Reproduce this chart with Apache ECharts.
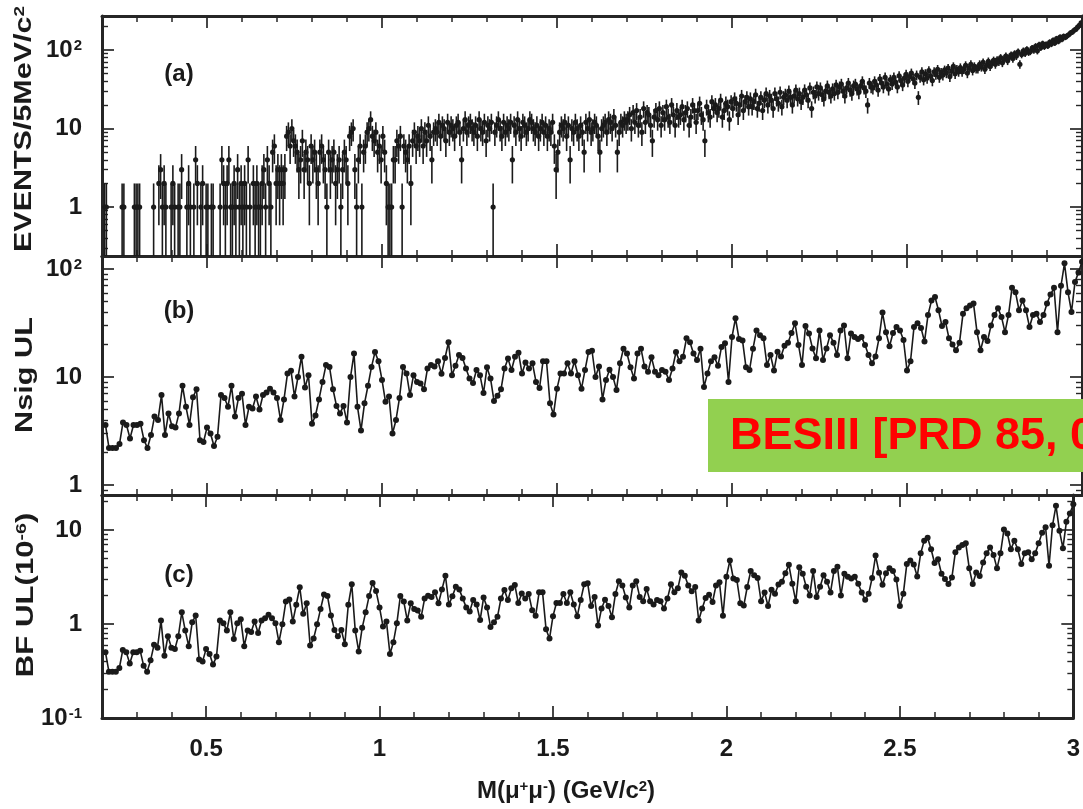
<!DOCTYPE html>
<html>
<head>
<meta charset="utf-8">
<script src="https://cdn.jsdelivr.net/npm/echarts@6/dist/echarts.min.js"></script>
<style>html,body{margin:0;padding:0;background:#fff;overflow:hidden}#chart{width:1083px;height:809px}</style>
</head>
<body>
<div id="chart"></div>
<script>
// ---------------- data ----------------
const massRange = [0.2, 3.0];                 // GeV/c^2
const xTickLabels = [0.5, 1, 1.5, 2, 2.5, 3];
const xMinorTicks = [0.3,0.4,0.6,0.7,0.8,0.9,1.1,1.2,1.3,1.4,1.6,1.7,1.8,1.9,2.1,2.2,2.3,2.4,2.6,2.7,2.8,2.9];
const yTicksA = [1, 10, 100];
const yTicksB = [1, 10, 100];
const yTicksC = [0.1, 1, 10];
const yMinorA = [0.3,0.4,0.5,0.6,0.7,0.8,0.9,2,3,4,5,6,7,8,9,20,30,40,50,60,70,80,90,200];
const yMinorB = [0.9,2,3,4,5,6,7,8,9,20,30,40,50,60,70,80,90];
const yMinorC = [0.2,0.3,0.4,0.5,0.6,0.7,0.8,0.9,2,3,4,5,6,7,8,9,20];
const yRangeA = [0.238, 272];
const yRangeB = [0.808, 132];
const yRangeC = [0.1, 23.5];

// (a) events per 5 MeV bin, bins start at 0.200 GeV
const binStart = 0.2, binWidth = 0.005;
const eventsA = [
0,1,1,0,0,0,0,0,0,0,
0,1,1,0,0,0,0,0,1,1,
1,1,0,0,0,0,0,0,0,1,
0,0,2,3,1,2,1,0,0,1,
2,1,0,1,1,3,0,0,1,2,
1,0,1,4,2,0,1,2,0,1,
1,0,1,1,0,0,0,1,4,2,
1,2,4,1,1,2,1,3,1,2,
1,2,1,4,1,0,2,1,2,1,
1,2,3,1,4,2,1,5,6,2,
3,2,3,2,3,8,9,6,10,7,
6,5,3,4,7,3,5,4,2,6,
4,5,3,2,5,6,4,3,1,5,
3,4,5,2,3,4,1,3,5,4,
2,8,9,10,3,1,4,6,1,5,
6,9,10,13,8,7,9,5,6,4,
8,5,2,1,1,1,4,4,7,6,
8,1,6,5,4,6,2,7,9,6,
8,7,10,6,9,7,11,8,4,9,
10,9,12,8,11,10,7,12,9,11,
10,8,11,12,9,4,10,13,9,11,
12,10,9,11,8,13,10,9,12,7,
11,10,12,1,9,11,13,10,8,12,
9,11,10,12,4,11,9,13,10,8,
12,11,9,10,13,12,10,9,11,8,
10,12,9,11,8,10,9,12,6,3,
5,9,11,10,12,8,11,4,10,9,
12,10,8,11,9,5,12,10,13,9,
10,12,11,8,5,10,11,12,9,13,
12,10,14,11,5,9,12,11,13,12,
13,15,10,16,12,17,11,14,9,18,
12,16,15,11,7,14,17,13,18,11,
16,13,19,14,12,20,15,11,17,14,
15,19,13,16,18,11,14,20,17,12,
17,21,15,13,7,19,16,14,22,18,
20,16,18,23,14,17,21,19,13,22,
18,24,21,15,20,26,17,22,25,19,
24,19,22,27,18,21,25,17,23,28,
20,26,23,18,28,24,21,29,19,25,
27,23,30,25,20,26,31,24,28,22,
25,31,27,23,33,18,29,26,34,28,
33,27,24,30,35,29,26,32,28,36,
29,34,37,30,26,33,38,31,28,35,
37,32,29,35,40,33,30,20,38,34,
33,40,36,31,43,38,34,45,37,32,
42,37,45,39,34,47,41,36,44,49,
40,46,51,43,38,48,25,45,53,42,
50,44,55,47,41,53,49,57,45,52,
48,56,51,59,46,54,62,50,57,53,
60,53,57,64,51,59,66,55,62,58,
58,66,61,70,57,64,72,62,68,74,
66,75,71,80,69,77,84,73,81,87,
78,90,84,95,66,88,98,91,102,94,
96,106,100,112,98,117,108,121,111,118,
114,126,120,133,124,140,130,146,138,150,
146,152,158,166,170,179,185,196,206,222
];

// (b),(c) scan points every 10 MeV starting at 0.21 GeV
const scanStart = 0.21, scanStep = 0.01;
const nsigUL = [
3.6,2.2,2.2,2.2,2.4,3.8,3.6,2.7,3.6,3.6,
3.7,2.6,2.2,2.9,4.3,4.0,6.8,2.9,4.6,3.5,
3.4,4.6,8.3,5.3,3.6,6.5,7.7,2.6,2.5,3.4,
3.0,2.3,2.8,6.8,6.4,5.3,8.3,4.3,6.4,7.0,
3.6,5.3,5.1,6.6,5.0,6.8,7.2,7.8,7.2,6.4,
4.0,6.2,10.8,11.4,6.6,10,15.4,8,10.4,3.7,
4.4,6.2,9.0,12.9,12.4,7.7,5.4,4.6,5.4,3.8,
10,16.5,5.3,3.2,5.7,8.3,12.4,17,14,9.4,
5.9,6.6,3.0,4.0,6.4,12.4,10.8,6.8,10.4,9.0,
8.7,7.7,12,12.9,12.5,14,10.7,15,21,10.4,
12.7,16,15,12,9.7,8.8,11.6,10.4,7.1,12.3,
9.7,6,6.7,7.7,12,14.8,11.6,15.4,16.8,10.8,
13.6,12,13.4,9,7.9,14,14,5.7,4.5,7.8,
10.8,10.8,13.4,10.8,14,10.4,7.8,11.6,17,17.5,
10,12.5,6.2,9.4,11.7,10,7.6,13.4,18.3,16.5,
12.3,9.7,16.5,18.3,12.5,11.2,15.2,11.2,10.4,11.6,
11.2,9.4,12,17,14,15.4,22.8,21,16.5,14.4,
18.3,8.1,10.8,14,15.2,12.7,19,20.5,9,23.5,
35,22.5,21.8,12.3,11.6,18.3,27,24.4,22.8,12.9,
16,11.5,17.1,15.5,19.5,20.8,25.6,31.5,19.8,12.9,
29.6,25.3,18.4,14.9,27,14.4,18.4,24.4,20.8,16,
27,30,14.9,25.3,23.5,22.5,23.5,19.8,16,13.4,
15.5,22.8,39.5,26,19.3,25.6,29,27,22,11.5,
14,29,31.5,28.5,21.3,37.5,51,55,41.5,29.6,
32.4,22.8,20,17.7,20.8,38.6,43.3,46,48,26,
17.7,23.5,21.5,30,37.5,43.3,36,26,37.5,67,
61,41.5,51,41.5,29,37.5,38.6,32.4,37.5,48,
58,67,26,70,113,61,40,76,93,117
];
const bfUL = [
0.50,0.31,0.31,0.31,0.34,0.53,0.50,0.38,0.50,0.50,
0.52,0.36,0.31,0.41,0.60,0.56,1.09,0.46,0.74,0.56,
0.54,0.74,1.33,0.85,0.58,1.04,1.23,0.42,0.40,0.54,
0.48,0.37,0.45,1.09,1.02,0.85,1.33,0.69,1.02,1.12,
0.58,0.85,0.82,1.06,0.80,1.09,1.15,1.25,1.15,1.02,
0.64,0.99,1.73,1.82,1.06,1.6,2.46,1.28,1.66,0.59,
0.70,0.99,1.44,2.06,1.98,1.23,0.86,0.74,0.86,0.61,
1.6,2.64,0.85,0.51,0.91,1.33,1.98,2.72,2.24,1.50,
0.94,1.06,0.48,0.64,1.02,1.98,1.73,1.09,1.66,1.44,
1.39,1.19,1.86,2.0,1.94,2.17,1.66,2.33,3.26,1.61,
1.97,2.48,2.33,1.86,1.50,1.36,1.80,1.61,1.10,1.91,
1.50,0.93,1.04,1.19,1.86,2.29,1.80,2.39,2.60,1.67,
2.11,1.86,2.08,1.40,1.22,2.17,2.17,0.88,0.70,1.21,
1.67,1.67,2.08,1.67,2.17,1.61,1.21,1.80,2.64,2.71,
1.55,1.94,0.96,1.46,1.81,1.55,1.18,2.08,2.84,2.56,
1.91,1.50,2.56,2.84,1.94,1.74,2.36,1.74,1.61,1.80,
1.74,1.46,1.86,2.64,2.17,2.39,3.53,3.26,2.56,2.23,
2.47,1.09,1.46,1.89,2.05,1.71,2.57,2.77,1.22,3.17,
4.73,3.04,2.94,1.66,1.57,2.47,3.65,3.29,3.08,1.74,
2.16,1.55,2.31,2.09,2.63,2.81,3.46,4.25,2.67,1.74,
4.0,3.42,2.48,2.01,3.65,1.94,2.48,3.29,2.81,2.16,
3.65,4.05,2.01,3.42,3.17,3.04,3.17,2.67,2.16,1.81,
2.09,3.08,5.33,3.51,2.61,3.46,3.92,3.65,2.97,1.55,
2.1,4.35,4.73,4.28,3.2,5.63,7.65,8.25,6.23,4.44,
4.86,3.42,3.0,2.66,3.12,5.79,6.5,6.9,7.2,3.9,
2.66,3.53,3.23,4.5,5.63,6.5,5.4,3.9,5.63,10.1,
9.15,6.23,7.65,6.23,4.35,5.63,5.79,4.86,5.63,7.2,
9.3,10.7,4.16,11.2,18.1,9.8,6.4,12.2,14.9,18.7
];

// ---------------- chart ----------------
const FONT = "'Liberation Sans', Arial, Helvetica, sans-serif";
const INK = '#1a1a1a';
const FRAME = '#262626';
const gridBoxes = [
  {left: 102, top: 16, width: 980, height: 240},
  {left: 102, top: 256, width: 980, height: 239},
  {left: 102, top: 495, width: 980, height: 223}
];
const supStyle = {fontSize: 15, fontWeight: 'bold', fontFamily: FONT, color: INK, verticalAlign: 'top', padding: [0, 0, 0, 1]};

function powLabel(v) {
  const e = Math.round(Math.log10(v));
  if (e === 0) return '1';
  if (e === 1) return '10';
  return '10{sup|' + e + '}';
}

const xAxes = [], yAxes = [];
function buildAxes(g, yRange, yMajor, yMinor) {
  const xb = {gridIndex: g, type: 'value', min: massRange[0], max: massRange[1], splitLine: {show: false}};
  ['bottom', 'top'].forEach(function (pos) {
    const showLab = (g === 2 && pos === 'bottom');
    xAxes.push(Object.assign({}, xb, {
      position: pos,
      axisLine: {show: true, onZero: false, lineStyle: {color: FRAME, width: 3}},
      axisTick: {show: true, inside: true, length: 12, customValues: xTickLabels, lineStyle: {color: FRAME, width: 1.7}},
      axisLabel: showLab ? {show: true, customValues: xTickLabels, margin: 19, fontSize: 24, fontWeight: 'bold',
        fontFamily: FONT, color: INK, formatter: function (v) { return String(Math.round(v * 10) / 10); }} : {show: false}
    }));
    xAxes.push(Object.assign({}, xb, {
      position: pos,
      axisLine: {show: false, onZero: false},
      axisTick: {show: true, inside: true, length: 6, customValues: xMinorTicks, lineStyle: {color: FRAME, width: 1.5}},
      axisLabel: {show: false}
    }));
  });
  const yb = {gridIndex: g, type: 'log', logBase: 10, min: yRange[0], max: yRange[1], splitLine: {show: false}};
  ['left', 'right'].forEach(function (pos) {
    yAxes.push(Object.assign({}, yb, {
      position: pos,
      axisLine: {show: true, onZero: false, lineStyle: {color: FRAME, width: 3}},
      axisTick: {show: true, inside: true, length: 12, customValues: yMajor, lineStyle: {color: FRAME, width: 1.7}},
      axisLabel: pos === 'left' ? {show: true, customValues: yMajor, margin: 20, fontSize: 24, fontWeight: 'bold',
        fontFamily: FONT, color: INK, formatter: powLabel, rich: {sup: supStyle}} : {show: false}
    }));
    yAxes.push(Object.assign({}, yb, {
      position: pos,
      axisLine: {show: false, onZero: false},
      axisTick: {show: true, inside: true, length: 6, customValues: yMinor, lineStyle: {color: FRAME, width: 1.4}},
      axisLabel: {show: false}
    }));
  });
}
buildAxes(0, yRangeA, yTicksA, yMinorA);
buildAxes(1, yRangeB, yTicksB, yMinorB);
buildAxes(2, yRangeC, yTicksC, yMinorC);

const histData = [];
eventsA.forEach(function (n, k) {
  if (n > 0) histData.push([+(binStart + binWidth * (k + 0.5)).toFixed(4), n]);
});
const scanMass = nsigUL.map(function (_, i) { return +(scanStart + scanStep * i).toFixed(3); });
const dataB = nsigUL.map(function (v, i) { return [scanMass[i], v]; });
const dataC = bfUL.map(function (v, i) { return [scanMass[i], v]; });

function renderErr(params, api) {
  const m = api.value(0), n = api.value(1);
  const s = Math.sqrt(n);
  const c = api.coord([m, n]);
  const up = api.coord([m, n + s]);
  const lo = api.coord([m, Math.max(n - s, yRangeA[0])]);
  return {
    type: 'group',
    children: [
      {type: 'line', shape: {x1: c[0], y1: up[1], x2: c[0], y2: lo[1]}, style: {stroke: INK, lineWidth: 1.6}},
      {type: 'circle', shape: {cx: c[0], cy: c[1], r: 2.6}, style: {fill: INK}}
    ]
  };
}

function gtext(x, y, text, size, extra) {
  return Object.assign({
    type: 'text', x: x, y: y, z: 50,
    style: {text: text, fontSize: size, fontWeight: 'bold', fontFamily: FONT, fill: INK,
      align: 'center', verticalAlign: 'middle', rich: {sup: {fontSize: Math.round(size * 0.62), fontWeight: 'bold', fontFamily: FONT, fill: INK, verticalAlign: 'top'}}}
  }, extra || {});
}

const option = {
  animation: false,
  backgroundColor: '#ffffff',
  grid: gridBoxes.map(function (b) { return Object.assign({containLabel: false}, b); }),
  xAxis: xAxes,
  yAxis: yAxes,
  series: [
    {type: 'custom', name: 'events', xAxisIndex: 0, yAxisIndex: 0, renderItem: renderErr,
      encode: {x: 0, y: 1}, data: histData, clip: true, z: 3},
    {type: 'line', name: 'Nsig UL', xAxisIndex: 4, yAxisIndex: 4, data: dataB, symbol: 'circle', symbolSize: 6,
      itemStyle: {color: INK}, lineStyle: {color: INK, width: 1.6}, clip: true, z: 3},
    {type: 'line', name: 'BF UL', xAxisIndex: 8, yAxisIndex: 8, data: dataC, symbol: 'circle', symbolSize: 6,
      itemStyle: {color: INK}, lineStyle: {color: INK, width: 1.6}, clip: true, z: 3}
  ],
  graphic: [
    gtext(179, 74, '(a)', 24),
    gtext(179, 311, '(b)', 24),
    gtext(179, 575, '(c)', 24),
    gtext(24, 129, 'EVENTS/5MeV/c{sup|2}', 24, {rotation: Math.PI / 2, scaleX: 1.27}),
    gtext(25, 375, 'Nsig UL', 24, {rotation: Math.PI / 2, scaleX: 1.28}),
    gtext(26, 595, 'BF UL(10{sup|-6})', 24, {rotation: Math.PI / 2, scaleX: 1.3}),
    gtext(566, 791, 'M(\u03bc{sup|+}\u03bc{sup|-}) (GeV/c{sup|2})', 24),
    {type: 'rect', z: 100, shape: {x: 708, y: 399, width: 400, height: 73}, style: {fill: '#92D050'}},
    {type: 'text', z: 101, x: 730, y: 437, style: {text: 'BESIII [PRD 85, 092012 (2012)]', fontSize: 45, fontWeight: 'bold',
      fontFamily: FONT, fill: '#FF0000', align: 'left', verticalAlign: 'middle'}}
  ]
};

const chart = echarts.init(document.getElementById('chart'), null, {renderer: 'canvas'});
chart.setOption(option);
</script>
</body>
</html>
